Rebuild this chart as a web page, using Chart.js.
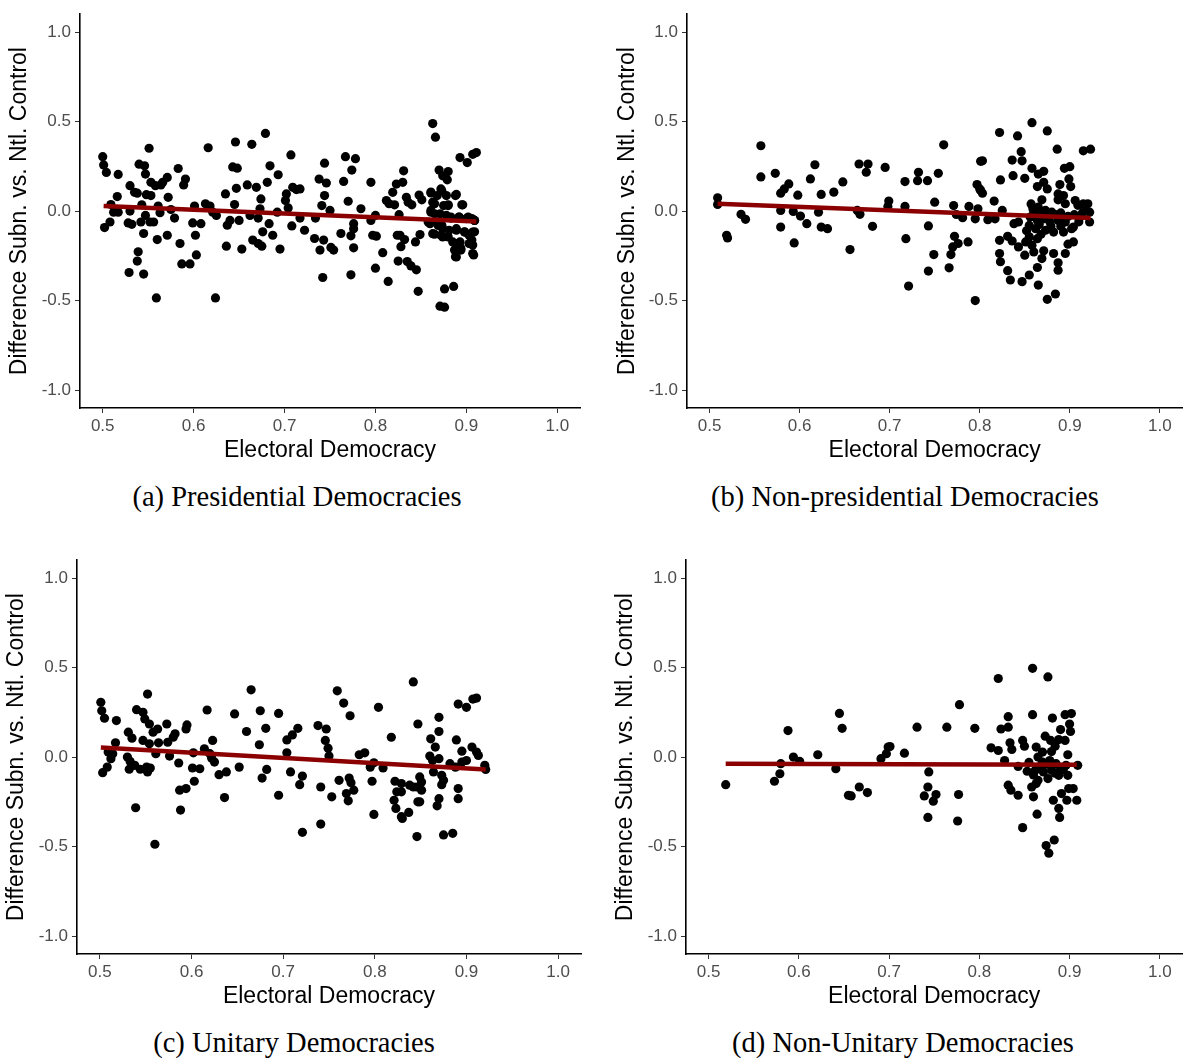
<!DOCTYPE html>
<html>
<head>
<meta charset="utf-8">
<script src="https://cdn.jsdelivr.net/npm/chart.js@4.4.1/dist/chart.umd.min.js"></script>
<style>
  body { margin: 0; background: #fff; }
  #page { position: relative; width: 1187px; height: 1059px; overflow: hidden; }
  canvas { position: absolute; }
  .caption {
    position: absolute;
    width: 580px;
    text-align: center;
    font-family: "Liberation Serif", "DejaVu Serif", serif;
    font-size: 28.5px;
    color: #000;
    white-space: nowrap;
  }
</style>
</head>
<body>
<div id="page">
  <canvas id="panelA" width="595" height="475" style="left:0;top:0"></canvas>
  <canvas id="panelB" width="580" height="475" style="left:607px;top:0"></canvas>
  <canvas id="panelC" width="595" height="475" style="left:0;top:546px"></canvas>
  <canvas id="panelD" width="580" height="475" style="left:607px;top:546px"></canvas>
  <div class="caption" style="left:7px;top:481px">(a) Presidential Democracies</div>
  <div class="caption" style="left:615px;top:481px">(b) Non-presidential Democracies</div>
  <div class="caption" style="left:4px;top:1027px">(c) Unitary Democracies</div>
  <div class="caption" style="left:613px;top:1027px">(d) Non-Unitary Democracies</div>
</div>
<script>
const xTicks = [0.5, 0.6, 0.7, 0.8, 0.9, 1.0];
const yTicks = [-1.0, -0.5, 0.0, 0.5, 1.0];
const xTitle = 'Electoral Democracy';
const yTitle = 'Difference Subn. vs. Ntl. Control';

// [electoral democracy, difference] per country-year
const presidential = [
  [0.500,0.304],[0.501,0.258],[0.504,0.216],[0.502,-0.092],[0.508,-0.061],[0.509,0.037],[0.512,-0.006],[0.516,0.081],
  [0.517,0.205],[0.517,-0.006],[0.529,-0.343],[0.530,0.142],[0.530,0.000],[0.528,-0.066],[0.532,-0.074],[0.535,0.105],
  [0.538,0.100],[0.539,-0.227],[0.538,-0.279],[0.540,0.262],[0.542,-0.061],[0.543,0.035],[0.545,-0.125],[0.545,-0.352],
  [0.546,0.253],[0.547,0.207],[0.547,-0.024],[0.548,0.092],[0.551,0.351],[0.552,-0.061],[0.553,0.161],[0.553,0.087],
  [0.556,-0.061],[0.558,0.142],[0.559,-0.485],[0.560,-0.159],[0.561,0.028],[0.563,-0.009],[0.564,0.146],[0.566,0.161],
  [0.571,0.188],[0.571,-0.135],[0.572,0.077],[0.575,0.009],[0.579,-0.039],[0.583,0.238],[0.585,-0.181],[0.587,-0.295],
  [0.589,0.146],[0.591,0.179],[0.596,-0.295],[0.599,-0.066],[0.601,0.028],[0.602,-0.135],[0.603,-0.245],[0.608,-0.070],
  [0.613,0.041],[0.616,0.354],[0.618,0.028],[0.621,-0.006],[0.624,-0.485],[0.625,-0.024],[0.635,0.096],[0.636,-0.196],
  [0.637,-0.079],[0.640,-0.052],[0.643,0.247],[0.645,0.037],[0.646,0.386],[0.647,0.127],[0.648,0.240],[0.650,-0.052],
  [0.653,-0.212],[0.659,0.146],[0.662,-0.024],[0.664,0.373],[0.665,-0.162],[0.669,0.133],[0.671,-0.181],[0.673,0.013],
  [0.674,0.068],[0.671,-0.039],[0.675,-0.196],[0.676,-0.116],[0.679,0.434],[0.681,0.161],[0.683,-0.070],[0.684,0.253],
  [0.687,-0.135],[0.692,-0.006],[0.693,0.203],[0.695,-0.212],[0.701,0.059],[0.702,0.096],[0.704,0.018],[0.707,0.314],
  [0.708,-0.083],[0.709,0.133],[0.713,0.120],[0.717,0.124],[0.717,-0.039],[0.722,-0.107],[0.733,-0.153],[0.734,-0.039],
  [0.738,0.179],[0.739,-0.218],[0.741,0.031],[0.742,-0.371],[0.743,-0.162],[0.744,0.087],[0.744,0.268],[0.746,0.157],
  [0.750,0.004],[0.751,-0.203],[0.754,-0.218],[0.762,-0.125],[0.765,0.166],[0.767,0.304],[0.770,0.055],[0.773,-0.138],
  [0.773,-0.356],[0.774,0.229],[0.776,-0.098],[0.776,-0.070],[0.776,-0.205],[0.778,0.293],[0.784,0.013],[0.795,0.161],
  [0.795,-0.052],[0.797,-0.135],[0.800,-0.024],[0.801,-0.140],[0.800,-0.319],[0.808,-0.232],[0.812,0.059],[0.814,-0.393],
  [0.815,0.041],[0.819,0.105],[0.821,0.035],[0.823,0.151],[0.824,-0.135],[0.825,-0.279],[0.826,-0.020],[0.827,-0.135],
  [0.828,-0.199],[0.830,0.161],[0.831,0.225],[0.832,-0.159],[0.834,0.077],[0.835,-0.282],[0.836,0.050],[0.839,-0.306],
  [0.840,0.035],[0.844,-0.172],[0.845,-0.328],[0.847,-0.448],[0.848,0.090],[0.849,-0.131],[0.851,0.063],[0.858,-0.061],
  [0.861,0.101],[0.863,0.489],[0.861,0.004],[0.863,0.050],[0.865,-0.129],[0.866,0.413],[0.865,-0.015],[0.868,0.087],
  [0.869,-0.061],[0.870,0.229],[0.871,-0.531],[0.874,0.197],[0.873,0.114],[0.873,-0.079],[0.874,-0.144],[0.875,0.031],
  [0.876,-0.537],[0.876,-0.435],[0.878,-0.024],[0.879,0.175],[0.880,0.221],[0.880,0.035],[0.881,-0.107],[0.883,-0.039],
  [0.886,-0.421],[0.888,0.087],[0.888,-0.181],[0.888,-0.255],[0.889,-0.098],[0.892,-0.033],[0.893,0.299],[0.893,-0.172],
  [0.894,-0.218],[0.895,0.035],[0.898,-0.116],[0.900,-0.042],[0.901,0.271],[0.903,-0.135],[0.904,-0.181],[0.906,-0.042],
  [0.907,0.317],[0.907,-0.190],[0.908,-0.245],[0.909,-0.116],[0.909,-0.052],[0.911,0.327],[0.906,-0.162],
  [0.861,0.106],[0.872,0.124],[0.878,0.087],[0.865,0.041],[0.880,0.031],[0.889,0.093],[0.896,0.035],[0.861,-0.006],
  [0.871,-0.015],[0.883,-0.033],[0.892,-0.033],[0.902,-0.033],[0.909,-0.052],[0.860,-0.070],[0.869,-0.080],[0.874,-0.098],
  [0.863,-0.126],[0.872,-0.135],[0.880,-0.144],[0.889,-0.107],[0.898,-0.117],[0.907,-0.117],[0.885,-0.172],[0.892,-0.181],
  [0.903,-0.181],[0.887,-0.218],[0.894,-0.209],[0.907,-0.237],[0.889,-0.256]
];

const nonPresidential = [
  [0.509,0.074],[0.509,0.037],[0.519,-0.135],[0.520,-0.150],[0.535,-0.018],[0.540,-0.046],[0.557,0.365],[0.557,0.191],
  [0.573,0.211],[0.579,0.100],[0.583,0.124],[0.588,0.152],[0.579,0.004],[0.579,-0.089],[0.593,-0.002],[0.594,-0.178],
  [0.598,0.089],[0.601,-0.028],[0.608,-0.070],[0.612,0.180],[0.617,0.259],[0.621,-0.006],[0.624,0.093],[0.624,-0.089],
  [0.631,-0.098],[0.638,0.106],[0.648,0.163],[0.656,-0.215],[0.666,0.263],[0.676,0.263],[0.674,0.217],[0.664,0.004],
  [0.667,-0.018],[0.681,-0.085],[0.695,0.244],[0.699,0.056],[0.698,0.026],[0.717,0.165],[0.717,0.026],[0.718,-0.154],
  [0.721,-0.419],[0.731,0.170],[0.732,0.217],[0.742,0.170],[0.743,-0.083],[0.743,-0.335],[0.749,-0.243],[0.750,0.050],
  [0.754,0.211],[0.760,0.370],[0.766,-0.317],[0.768,-0.243],[0.770,-0.200],[0.772,-0.141],[0.776,-0.181],[0.771,0.031],
  [0.774,-0.019],[0.781,-0.037],[0.787,-0.172],[0.788,0.026],[0.795,-0.043],[0.797,0.148],[0.801,0.115],[0.801,0.278],
  [0.795,-0.500],[0.798,0.013],
  [0.858,0.494],[0.822,0.439],[0.842,0.420],[0.875,0.448],[0.846,0.332],[0.886,0.346],[0.915,0.337],[0.923,0.346],
  [0.803,0.281],[0.836,0.285],[0.847,0.281],[0.858,0.239],[0.871,0.222],[0.865,0.207],[0.894,0.239],[0.900,0.248],
  [0.823,0.174],[0.837,0.198],[0.850,0.183],[0.871,0.161],[0.864,0.137],[0.889,0.148],[0.899,0.180],[0.875,0.124],
  [0.901,0.137],[0.800,0.124],[0.803,0.100],[0.887,0.096],[0.893,0.087],[0.816,0.056],[0.869,0.063],[0.887,0.063],
  [0.895,0.041],[0.906,0.059],[0.909,0.032],[0.915,0.041],[0.920,0.041],[0.917,0.004],[0.825,0.004],[0.809,-0.048],
  [0.817,-0.043],[0.859,0.013],[0.865,0.022],[0.873,0.004],[0.880,-0.006],[0.856,-0.033],[0.864,-0.052],[0.871,-0.043],
  [0.878,-0.061],[0.887,-0.052],[0.895,-0.061],[0.904,-0.089],[0.922,-0.061],[0.855,-0.080],[0.862,-0.098],[0.873,-0.107],
  [0.882,-0.117],[0.893,-0.117],[0.902,-0.098],[0.838,-0.070],[0.843,-0.061],[0.822,-0.163],[0.831,-0.141],[0.836,-0.167],
  [0.843,-0.200],[0.851,-0.172],[0.855,-0.144],[0.858,-0.191],[0.864,-0.154],[0.860,-0.228],[0.871,-0.222],[0.882,-0.237],
  [0.895,-0.237],[0.904,-0.172],[0.898,-0.185],[0.822,-0.237],[0.823,-0.283],[0.850,-0.246],[0.869,-0.265],[0.887,-0.289],
  [0.887,-0.330],[0.864,-0.315],[0.831,-0.333],[0.834,-0.385],[0.847,-0.394],[0.855,-0.357],[0.865,-0.413],[0.875,-0.493],
  [0.884,-0.463],[0.922,-0.006],
  [0.860,-0.010],[0.868,-0.020],[0.876,-0.030],[0.884,-0.020],[0.890,-0.010],[0.898,-0.030],[0.905,-0.020],[0.912,-0.030],
  [0.866,-0.075],[0.879,-0.085],[0.890,-0.085],[0.910,-0.060],[0.914,-0.010],[0.857,0.040],[0.852,-0.110],[0.868,-0.130]
];

const unitary = [
  [0.501,0.306],[0.502,0.259],[0.505,0.217],[0.518,0.204],[0.503,-0.087],[0.508,-0.056],[0.509,0.028],[0.512,-0.009],
  [0.514,0.019],[0.517,0.080],[0.531,0.139],[0.535,0.106],[0.552,0.352],[0.540,0.265],[0.547,0.250],[0.549,0.213],
  [0.554,0.185],[0.558,0.139],[0.563,0.157],[0.573,0.185],[0.547,0.093],[0.554,0.074],[0.564,0.080],[0.530,0.000],
  [0.533,-0.024],[0.538,-0.046],[0.544,-0.068],[0.551,-0.056],[0.555,-0.061],[0.552,-0.083],[0.532,-0.068],[0.561,0.019],
  [0.539,-0.283],[0.560,-0.487],[0.576,0.006],[0.574,0.083],[0.580,0.111],[0.582,0.130],[0.586,-0.033],[0.587,-0.185],
  [0.594,-0.176],[0.588,-0.296],[0.594,0.157],[0.595,0.180],[0.603,-0.135],[0.601,-0.061],[0.609,-0.065],[0.602,0.024],
  [0.614,0.046],[0.620,0.019],[0.617,0.263],[0.623,0.093],[0.622,-0.006],[0.625,-0.028],[0.630,-0.098],[0.638,-0.083],
  [0.636,-0.226],[0.647,0.241],[0.652,-0.056],[0.660,0.143],[0.665,0.376],
  [0.675,0.259],[0.695,0.244],[0.681,0.161],[0.674,0.069],[0.682,-0.069],[0.677,-0.117],[0.695,-0.213],[0.704,0.096],
  [0.710,0.124],[0.716,0.161],[0.704,0.024],[0.708,-0.083],[0.721,-0.106],[0.718,-0.154],[0.721,-0.420],[0.738,0.176],
  [0.747,0.157],[0.746,0.093],[0.749,0.050],[0.750,0.006],[0.759,0.370],[0.766,0.302],[0.773,0.231],[0.741,-0.167],
  [0.741,-0.374],[0.753,-0.222],[0.761,-0.130],[0.772,-0.117],[0.774,-0.143],[0.777,-0.185],[0.769,-0.204],[0.771,-0.244],
  [0.783,0.013],[0.789,0.024],[0.795,-0.056],[0.799,-0.032],[0.809,-0.061],[0.797,-0.135],[0.799,-0.320],[0.804,0.278],
  [0.818,0.111],[0.822,-0.135],[0.829,-0.148],[0.824,-0.194],[0.821,-0.241],[0.823,-0.287],[0.829,-0.333],[0.837,-0.309],
  [0.842,0.420],[0.847,0.185],[0.838,-0.157],[0.846,-0.167],[0.847,-0.250],[0.846,-0.444],
  [0.870,0.222],[0.870,0.143],[0.891,0.296],[0.900,0.278],[0.907,0.324],[0.911,0.330],[0.889,0.096],[0.895,0.033],
  [0.861,0.102],[0.866,0.056],[0.860,0.006],[0.863,-0.019],[0.870,-0.009],[0.864,-0.083],[0.873,-0.102],[0.875,-0.130],
  [0.873,-0.154],[0.882,-0.037],[0.888,-0.056],[0.895,-0.028],[0.900,-0.019],[0.906,0.056],[0.911,0.028],[0.913,0.009],
  [0.920,-0.046],[0.921,-0.069],[0.849,-0.111],[0.851,-0.139],[0.851,-0.185],[0.842,-0.167],[0.829,-0.194],[0.849,-0.250],
  [0.830,-0.343],[0.870,-0.232],[0.868,-0.272],[0.891,-0.176],[0.891,-0.232],[0.875,-0.435],[0.885,-0.426]
];

const nonUnitary = [
  [0.519,-0.154],[0.573,-0.135],[0.579,-0.093],[0.580,-0.037],[0.588,0.148],[0.594,0.000],[0.601,-0.024],[0.621,0.013],
  [0.641,-0.065],[0.645,0.244],[0.648,0.161],[0.655,-0.213],[0.658,-0.217],[0.667,-0.167],[0.676,-0.198],[0.691,-0.009],
  [0.697,0.019],[0.699,0.056],[0.701,0.059],[0.717,0.022],[0.731,0.167],[0.744,-0.083],[0.743,-0.167],[0.739,-0.217],
  [0.752,-0.209],[0.749,-0.246],[0.743,-0.337],[0.764,0.167],[0.778,0.293],[0.777,-0.209],[0.776,-0.357],[0.795,0.161],
  [0.821,0.439],[0.859,0.496],[0.876,0.448],[0.832,0.226],[0.859,0.237],[0.881,0.218],[0.895,0.237],[0.902,0.243],
  [0.824,0.157],[0.832,0.167],[0.900,0.185],[0.901,0.143],[0.890,0.154],[0.813,0.052],[0.821,0.037],[0.834,0.080],
  [0.836,0.043],[0.848,0.093],[0.850,0.061],[0.873,0.117],[0.879,0.093],[0.888,0.098],[0.895,0.093],[0.884,0.061],
  [0.880,0.031],[0.863,0.056],[0.870,0.028],[0.828,-0.019],[0.898,0.013],[0.843,-0.052],[0.865,0.000],[0.870,-0.028],
  [0.878,-0.019],[0.885,-0.037],[0.896,-0.046],[0.909,-0.046],[0.853,-0.079],[0.862,-0.074],[0.871,-0.083],[0.880,-0.074],
  [0.888,-0.102],[0.898,-0.102],[0.865,-0.130],[0.876,-0.120],[0.832,-0.157],[0.835,-0.185],[0.843,-0.213],[0.858,-0.167],
  [0.863,-0.148],[0.860,-0.222],[0.899,-0.176],[0.904,-0.176],[0.891,-0.204],[0.882,-0.241],[0.897,-0.241],[0.908,-0.241],
  [0.888,-0.287],[0.889,-0.337],[0.864,-0.319],[0.848,-0.394],[0.883,-0.463],[0.874,-0.494],[0.877,-0.537],
  [0.855,-0.030],[0.868,-0.050],[0.875,-0.040],[0.890,-0.060],[0.860,-0.100],[0.884,-0.090],[0.893,-0.070]
];

// linear fit endpoints for each subset
const presFitX = [0.501, 0.911];
const presFitY = [0.028, -0.058];
const nonPresFitX = [0.509, 0.923];
const nonPresFitY = [0.041, -0.039];
const unitFitX = [0.501, 0.921];
const unitFitY = [0.054, -0.069];
const nonUnitFitX = [0.519, 0.908];
const nonUnitFitY = [-0.037, -0.043];

const tickColor = '#4d4d4d';
const fitColor = '#8b0000';

function makePanel(id, points, fitX, fitY, frame) {
  const ctx = document.getElementById(id);
  return new Chart(ctx, {
    type: 'scatter',
    data: {
      datasets: [
        {
          type: 'line',
          data: fitX.map((x, i) => ({ x, y: fitY[i] })),
          borderColor: fitColor,
          borderWidth: 4.5,
          pointRadius: 0,
          fill: false
        },
        {
          data: points.map(p => ({ x: p[0], y: p[1] })),
          backgroundColor: '#000',
          borderColor: '#000',
          borderWidth: 0,
          pointRadius: 4.6
        }
      ]
    },
    options: {
      responsive: false,
      animation: false,
      events: [],
      layout: { padding: { top: frame.top, right: frame.right, left: 0, bottom: 0 } },
      plugins: { legend: { display: false }, tooltip: { enabled: false } },
      scales: {
        x: {
          type: 'linear',
          min: 0.475,
          max: 1.025,
          afterBuildTicks: scale => { scale.ticks = xTicks.map(v => ({ value: v })); },
          afterFit: scale => { scale.height = frame.xHeight; },
          ticks: {
            color: tickColor,
            font: { family: 'Liberation Sans', size: 17 },
            padding: 3,
            maxRotation: 0,
            callback: v => v.toFixed(1)
          },
          grid: { drawOnChartArea: false, drawTicks: true, tickLength: 5, color: '#333', lineWidth: 1 },
          border: { display: true, color: '#000', width: 1.6 },
          title: {
            display: true,
            text: xTitle,
            color: '#000',
            font: { family: 'Liberation Sans', size: 23 },
            padding: { top: 0, bottom: 11 }
          }
        },
        y: {
          type: 'linear',
          min: -1.1,
          max: 1.1,
          afterBuildTicks: scale => { scale.ticks = yTicks.map(v => ({ value: v })); },
          afterFit: scale => { scale.width = frame.yWidth; },
          ticks: {
            color: tickColor,
            font: { family: 'Liberation Sans', size: 17 },
            padding: 4,
            callback: v => v.toFixed(1)
          },
          grid: { drawOnChartArea: false, drawTicks: true, tickLength: 5, color: '#333', lineWidth: 1 },
          border: { display: true, color: '#000', width: 1.6 },
          title: {
            display: true,
            text: yTitle,
            color: '#000',
            font: { family: 'Liberation Sans', size: 23 },
            padding: { top: frame.titleX, bottom: 0 }
          }
        }
      }
    }
  });
}

makePanel('panelA', presidential, presFitX, presFitY, { top: 11, right: 15, xHeight: 67, yWidth: 80, titleX: 6 });
makePanel('panelB', nonPresidential, nonPresFitX, nonPresFitY, { top: 11, right: 0, xHeight: 67, yWidth: 80, titleX: 7 });
makePanel('panelC', unitary, unitFitX, unitFitY, { top: 11, right: 14, xHeight: 67, yWidth: 77, titleX: 3 });
makePanel('panelD', nonUnitary, nonUnitFitX, nonUnitFitY, { top: 11, right: 0, xHeight: 67, yWidth: 79, titleX: 5 });
</script>
</body>
</html>
